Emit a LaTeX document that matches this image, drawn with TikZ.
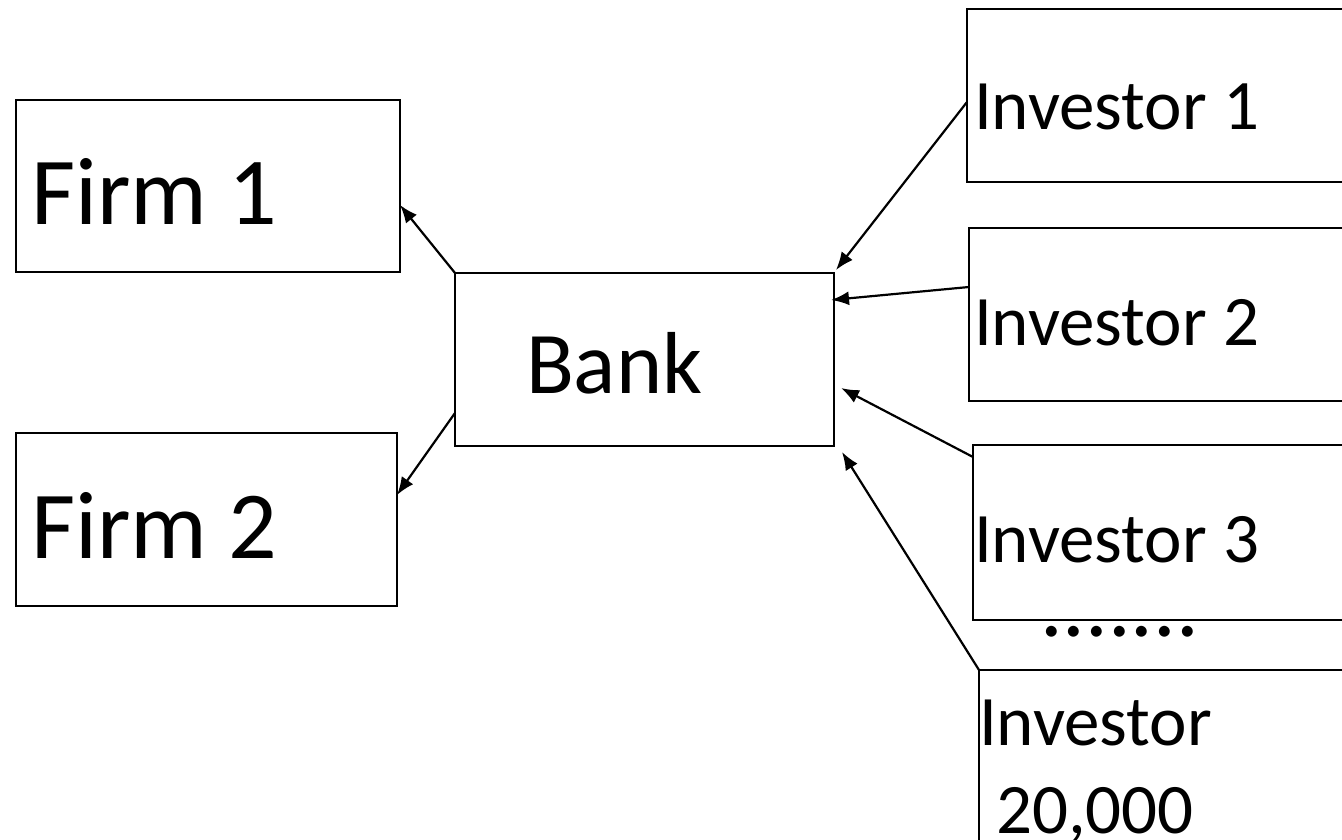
\documentclass[tikz,border=0pt]{standalone}
\usepackage{fontspec}
\setmainfont{Carlito}
\usetikzlibrary{arrows.meta}
\begin{document}
\begin{tikzpicture}[x=1pt,y=-1pt,
  box/.style={draw=black,line width=2.6pt,rectangle,inner sep=0pt,outer sep=0pt,anchor=north west},
  lbl/.style={inner sep=0pt,outer sep=0pt,anchor=base west},
  big/.style={lbl,font=\fontsize{96}{115}\selectfont},
  mid/.style={lbl,font=\fontsize{88}{105}\selectfont},
  inv/.style={lbl,font=\fontsize{71}{85}\selectfont},
  arr/.style={line width=2.2pt,-{Latex[length=18pt,width=14pt]}}]
\clip (0,0) rectangle (1342,840);
\fill[white] (0,0) rectangle (1342,840);
% boxes
\node[box,minimum width=384pt,minimum height=172pt] (firm1) at (16,100) {};
\node[box,minimum width=381pt,minimum height=173pt] (firm2) at (16,433) {};
\node[box,minimum width=379pt,minimum height=173pt] (bank) at (455,273) {};
\node[box,minimum width=400pt,minimum height=173pt] (inv1) at (967,9) {};
\node[box,minimum width=400pt,minimum height=173pt] (inv2) at (969,228) {};
\node[box,minimum width=400pt,minimum height=175pt] (inv3) at (973,445) {};
\node[box,minimum width=400pt,minimum height=220pt] (inv4) at (979,670) {};
% labels
\node[big] (t1) at (31,224) {Firm 1};
\node[big] (t2) at (31,558) {Firm 2};
\node[mid] (tb) at (526,393) {Bank};
\node[inv] (ti1) at (974,130) {Investor 1};
\node[inv] (ti2) at (974,345) {Investor 2};
\node[inv] (ti3) at (974,562) {Investor 3};
\node[inv] (ti4a) at (979,745) {Investor};
\node[inv] (ti4b) at (996,833) {20,000};
\node[lbl,font=\fontsize{90}{108}\selectfont] (dots) at (1040,636) {.......};
% connectors
\draw[arr] (bank.north west) -- ([yshift=-19pt]firm1.east);
\draw[arr] ([yshift=-53.5pt]bank.west) -- ([yshift=24.5pt]firm2.east);
\draw[arr] ([yshift=-6.5pt]inv1.west) -- ([shift={(2pt,3pt)}]bank.north east);
\draw[arr] ([yshift=27.5pt]inv2.west) -- ([shift={(-3pt,59.5pt)}]bank.east);
\draw[arr] ([yshift=-12pt]inv3.north west) -- ([shift={(7pt,-28.5pt)}]bank.east);
\draw[arr] (inv4.north west) -- ([shift={(8pt,-6pt)}]bank.south east);
\end{tikzpicture}
\end{document}
